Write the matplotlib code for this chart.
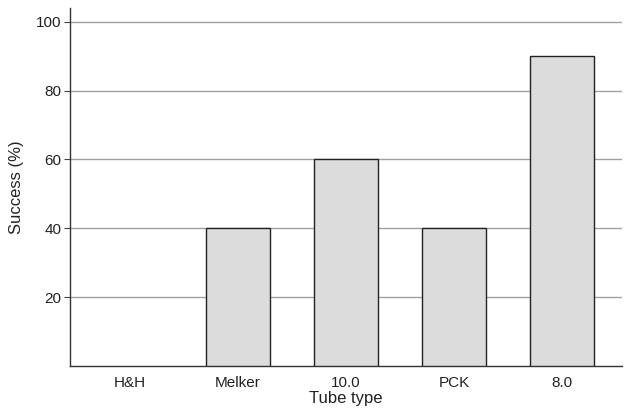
import matplotlib
matplotlib.use("Agg")
import matplotlib.pyplot as plt

categories = ["H&H", "Melker", "10.0", "PCK", "8.0"]
success = [0, 40, 60, 40, 90]
yticks = [20, 40, 60, 80, 100]

plt.rcParams['font.family'] = ['Liberation Sans', 'DejaVu Sans']

fig = plt.figure(figsize=(6.3, 4.12), dpi=100)
ax = fig.add_axes([70/630, 46/412, 552/630, 358/412])

x = list(range(len(categories)))
edges = ["#222222" if v > 0 else "none" for v in success]
ax.bar(x, success, width=0.585, color="#dcdcdc", edgecolor=edges, linewidth=1.0, zorder=3)

ax.set_xlim(-0.556, 4.556)
ax.set_ylim(0, 104)
ax.set_yticks(yticks)
ax.set_yticklabels([str(v) for v in yticks], fontsize=11, color="#222222")
ax.set_xticks(x)
ax.set_xticklabels(categories, fontsize=11, color="#222222")
ax.tick_params(axis='x', length=0, pad=7)
ax.tick_params(axis='y', length=4, width=0.8, color="#444444", pad=2)
ax.yaxis.grid(True, color="#a0a0a0", linewidth=1.0, zorder=0)
ax.set_axisbelow(True)

for s in ["top", "right"]:
    ax.spines[s].set_visible(False)
for s in ["left", "bottom"]:
    ax.spines[s].set_color("#333333")
    ax.spines[s].set_linewidth(1.0)

ax.set_xlabel("Tube type", fontsize=12, color="#222222", labelpad=1)
ax.set_ylabel("Success (%)", fontsize=12, color="#222222", labelpad=9)

fig.savefig("out.png", dpi=100)
